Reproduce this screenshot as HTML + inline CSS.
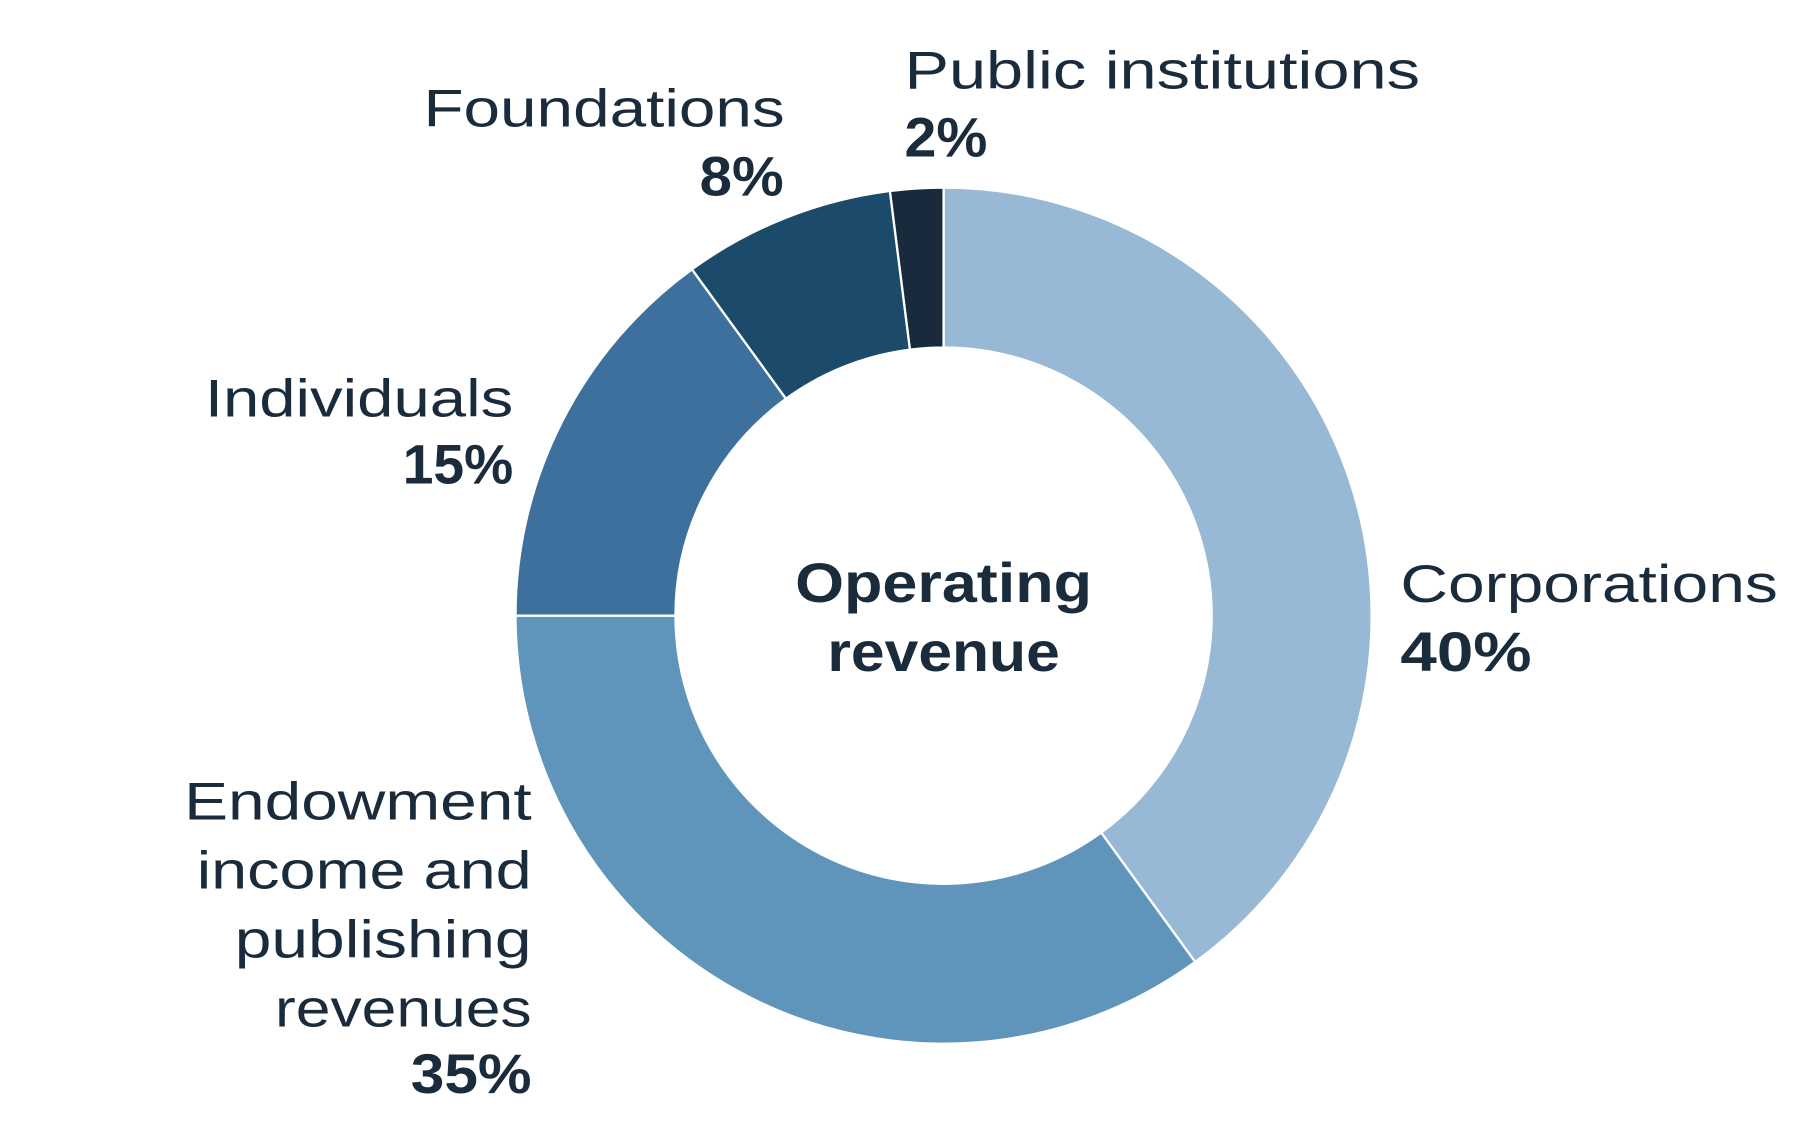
<!DOCTYPE html>
<html><head><meta charset="utf-8"><style>
html,body{margin:0;padding:0;background:#fff;}
svg{display:block;}
text{font-family:"Liberation Sans",sans-serif;fill:#1a2b3c;}
.lab{font-size:46px;}
.pct{font-size:48px;font-weight:bold;}
</style></head><body>
<svg id="chart" width="1802" height="1145" viewBox="0 0 1566 995" preserveAspectRatio="none" xmlns="http://www.w3.org/2000/svg">
<g id="slices"></g>
<g>
<text x="820" y="523" text-anchor="middle" class="pct" textLength="258" lengthAdjust="spacingAndGlyphs">Operating</text>
<text x="820" y="583" text-anchor="middle" class="pct" textLength="202" lengthAdjust="spacingAndGlyphs">revenue</text>
</g>
<g>
<text x="786" y="77" class="lab" textLength="448" lengthAdjust="spacingAndGlyphs">Public institutions</text>
<text x="786" y="136" class="pct" textLength="72" lengthAdjust="spacingAndGlyphs">2%</text>
</g>
<g>
<text x="682" y="110" text-anchor="end" class="lab" textLength="314" lengthAdjust="spacingAndGlyphs">Foundations</text>
<text x="681" y="170" text-anchor="end" class="pct" textLength="73" lengthAdjust="spacingAndGlyphs">8%</text>
</g>
<g>
<text x="446" y="362" text-anchor="end" class="lab" textLength="268" lengthAdjust="spacingAndGlyphs">Individuals</text>
<text x="446" y="420" text-anchor="end" class="pct" textLength="96" lengthAdjust="spacingAndGlyphs">15%</text>
</g>
<g>
<text x="1217" y="523" class="lab" textLength="328" lengthAdjust="spacingAndGlyphs">Corporations</text>
<text x="1217" y="583" class="pct" textLength="114" lengthAdjust="spacingAndGlyphs">40%</text>
</g>
<g>
<text x="462" y="712" text-anchor="end" class="lab" textLength="302" lengthAdjust="spacingAndGlyphs">Endowment</text>
<text x="462" y="772" text-anchor="end" class="lab" textLength="291" lengthAdjust="spacingAndGlyphs">income and</text>
<text x="462" y="832" text-anchor="end" class="lab" textLength="258" lengthAdjust="spacingAndGlyphs">publishing</text>
<text x="462" y="892" text-anchor="end" class="lab" textLength="223" lengthAdjust="spacingAndGlyphs">revenues</text>
<text x="462" y="950" text-anchor="end" class="pct" textLength="105" lengthAdjust="spacingAndGlyphs">35%</text>
</g>
</svg>
<script>
const categories = ["Corporations","Endowment income and publishing revenues","Individuals","Foundations","Public institutions"];
const values = [40,35,15,8,2];
const colors = ["#97b9d5","#5f95bb","#3d709c","#1c4a6b","#182a3b"];
const cx=820, cy=535, R=372, r=233;
const g=document.getElementById('slices');
const total=values.reduce((a,b)=>a+b,0);
function pt(rad,a){return [cx+rad*Math.sin(a), cy-rad*Math.cos(a)];}
let acc=0;
values.forEach((v,i)=>{
  const a0=acc/total*2*Math.PI; acc+=v; const a1=acc/total*2*Math.PI;
  const large=(a1-a0)>Math.PI?1:0;
  const p0=pt(R,a0),p1=pt(R,a1),q1=pt(r,a1),q0=pt(r,a0);
  const d=`M${p0[0]},${p0[1]} A${R},${R} 0 ${large} 1 ${p1[0]},${p1[1]} L${q1[0]},${q1[1]} A${r},${r} 0 ${large} 0 ${q0[0]},${q0[1]} Z`;
  const path=document.createElementNS('http://www.w3.org/2000/svg','path');
  path.setAttribute('d',d);
  path.setAttribute('fill',colors[i]);
  path.setAttribute('stroke','#ffffff');
  path.setAttribute('stroke-width','2');
  
  
  g.appendChild(path);
});
</script>
</body></html>
